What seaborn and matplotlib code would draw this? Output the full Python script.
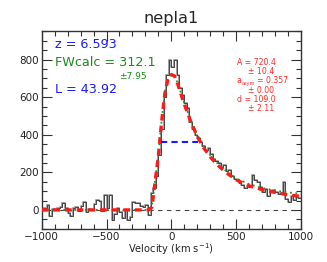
#!/usr/bin/env python3

# libraries
import matplotlib
matplotlib.use('Agg')

import matplotlib.pyplot as plt
import numpy as np
import pandas as pd
import seaborn as sns
from matplotlib.ticker import MultipleLocator

# ------------------------------------------------------------
#     Data
# ------------------------------------------------------------

# spectrum, 20 km/s bins (left edges)
vel_bins = list(range(-1000, 1000, 20))
flux = [
    5, 10, 27, -32, 5, 0, 10, 15, 35, 10,
    -18, -30, 10, 15, -5, 20, 44, -10, 5, 0,
    30, 55, 50, -5, 80, 10, 80, -53, -20, 10,
    -10, -45, 0, -53, -35, 44, 35, 35, 20, 15,
    27, -25, 90, 115, 180, 290, 430, 600, 720, 795,
    760, 795, 720, 650, 610, 570, 540, 470, 430, 400,
    380, 360, 340, 320, 330, 300, 270, 260, 250, 230,
    240, 205, 215, 180, 165, 160, 145, 130, 115, 120,
    125, 185, 160, 150, 120, 95, 110, 75, 100, 105,
    95, 85, 90, 150, 60, 40, 75, 55, 70, 65,
]

# best-fit asymmetric gaussian (red) and alternative fit (green)
model_vel = [-1000, -200, -175, -150, -125, -100, -75, -50, -25, 0, 25, 50, 75,
             100, 150, 200, 250, 300, 350, 400, 450, 500, 600, 700, 800, 900, 1000]
model_red = [0, 0, 0, 15, 150, 290, 470, 620, 700, 720, 712, 668, 614,
             562, 470, 390, 330, 282, 243, 212, 185, 160, 128, 108, 93, 80, 72]
model_green = [0, 0, 0, 20, 160, 300, 475, 625, 702, 720, 714, 672, 620,
               568, 478, 398, 338, 290, 252, 220, 193, 168, 137, 117, 103, 93, 86]

# half maximum line
hm_lo, hm_hi, hm_level = -83, 207, 360

title = "nepla1"
z_text = "z = 6.593"
fw_text = "FWcalc = 312.1"
fw_err = "\u00b17.95"
l_text = "L = 43.92"
fit_lines = ["A = 720.4", "\u00b1 10.4", None, "\u00b1 0.00",
             "d = 109.0", "\u00b1 2.11"]

# ------------------------------------------------------------
#     Plotting
# ------------------------------------------------------------

sns.set_style("ticks")
plt.rcParams['font.family'] = ['DejaVu Sans']

fig = plt.figure(figsize=(3.27, 2.62), dpi=100)
ax = fig.add_axes([0.1275, 0.127, 0.793, 0.7535])

spec = pd.DataFrame({'v': vel_bins + [1000], 'f': flux + [flux[-1]]})
mod = pd.DataFrame({'v': model_vel, 'red': model_red, 'green': model_green})

ax.axhline(0, color='#444444', lw=0.8, ls=(0, (4, 4)), zorder=1)

sns.lineplot(data=spec, x='v', y='f', drawstyle='steps-post', color='#a0a0a0',
             lw=1.4, ax=ax, zorder=2)
sns.lineplot(data=spec, x='v', y='f', drawstyle='steps-post', color='#222222',
             lw=0.5, ax=ax, zorder=3)
sns.lineplot(data=mod, x='v', y='green', color='#1a9a1a', lw=1.3,
             ls=(0, (1, 2)), ax=ax, zorder=4)
sns.lineplot(data=mod, x='v', y='red', color='#ff1a1a', lw=2.4,
             ls=(0, (2, 1.5)), ax=ax, zorder=5)
ax.plot([hm_lo, hm_hi], [hm_level, hm_level], color='#1a1aff', lw=1.5,
        ls=(0, (3, 2)), zorder=6)

ax.set_xlim(-1000, 1000)
ax.set_ylim(-100, 950)
ax.xaxis.set_major_locator(MultipleLocator(500))
ax.xaxis.set_minor_locator(MultipleLocator(100))
ax.yaxis.set_major_locator(MultipleLocator(200))
ax.yaxis.set_minor_locator(MultipleLocator(50))
ax.tick_params(which='both', direction='in', top=True, right=True,
               color='#333333', labelsize=7.5, labelcolor='#222222', pad=2)
ax.tick_params(which='major', length=7, width=0.8)
ax.tick_params(which='minor', length=3.5, width=0.8)
for s in ax.spines.values():
    s.set_color('#333333')
    s.set_linewidth(1.0)

ax.set_xlabel("Velocity (km s$^{-1}$)", fontsize=7.1, color='#222222', labelpad=0)
ax.set_ylabel("")
ax.set_title(title, fontsize=11.6, pad=6)

# annotations
ax.text(0.051, 0.934, z_text, transform=ax.transAxes, color='#1a1aff',
        fontsize=9.2, va='center')
ax.text(0.051, 0.843, fw_text, transform=ax.transAxes, color='#1a8a1a',
        fontsize=9.2, va='center')
ax.text(0.298, 0.773, fw_err, transform=ax.transAxes, color='#1a8a1a',
        fontsize=6.5, va='center')
ax.text(0.051, 0.707, l_text, transform=ax.transAxes, color='#1a1aff',
        fontsize=9.2, va='center')

red = '#ff2a2a'
y0 = 0.842
for i, t in enumerate(fit_lines):
    y = y0 - i * 0.0465
    if t is None:
        # a_asym line, subscript drawn as its own small text
        ax.text(0.753, y, "a", transform=ax.transAxes, color=red,
                fontsize=5.6, va='center')
        ax.text(0.770, y - 0.012, "asym", transform=ax.transAxes, color=red,
                fontsize=3.6, va='center')
        ax.text(0.832, y, "= 0.357", transform=ax.transAxes, color=red,
                fontsize=5.6, va='center')
        continue
    x = 0.753 if i % 2 == 0 else 0.796
    ax.text(x, y, t, transform=ax.transAxes, color=red,
            fontsize=5.6, va='center')

fig.savefig("out.png", dpi=100)
